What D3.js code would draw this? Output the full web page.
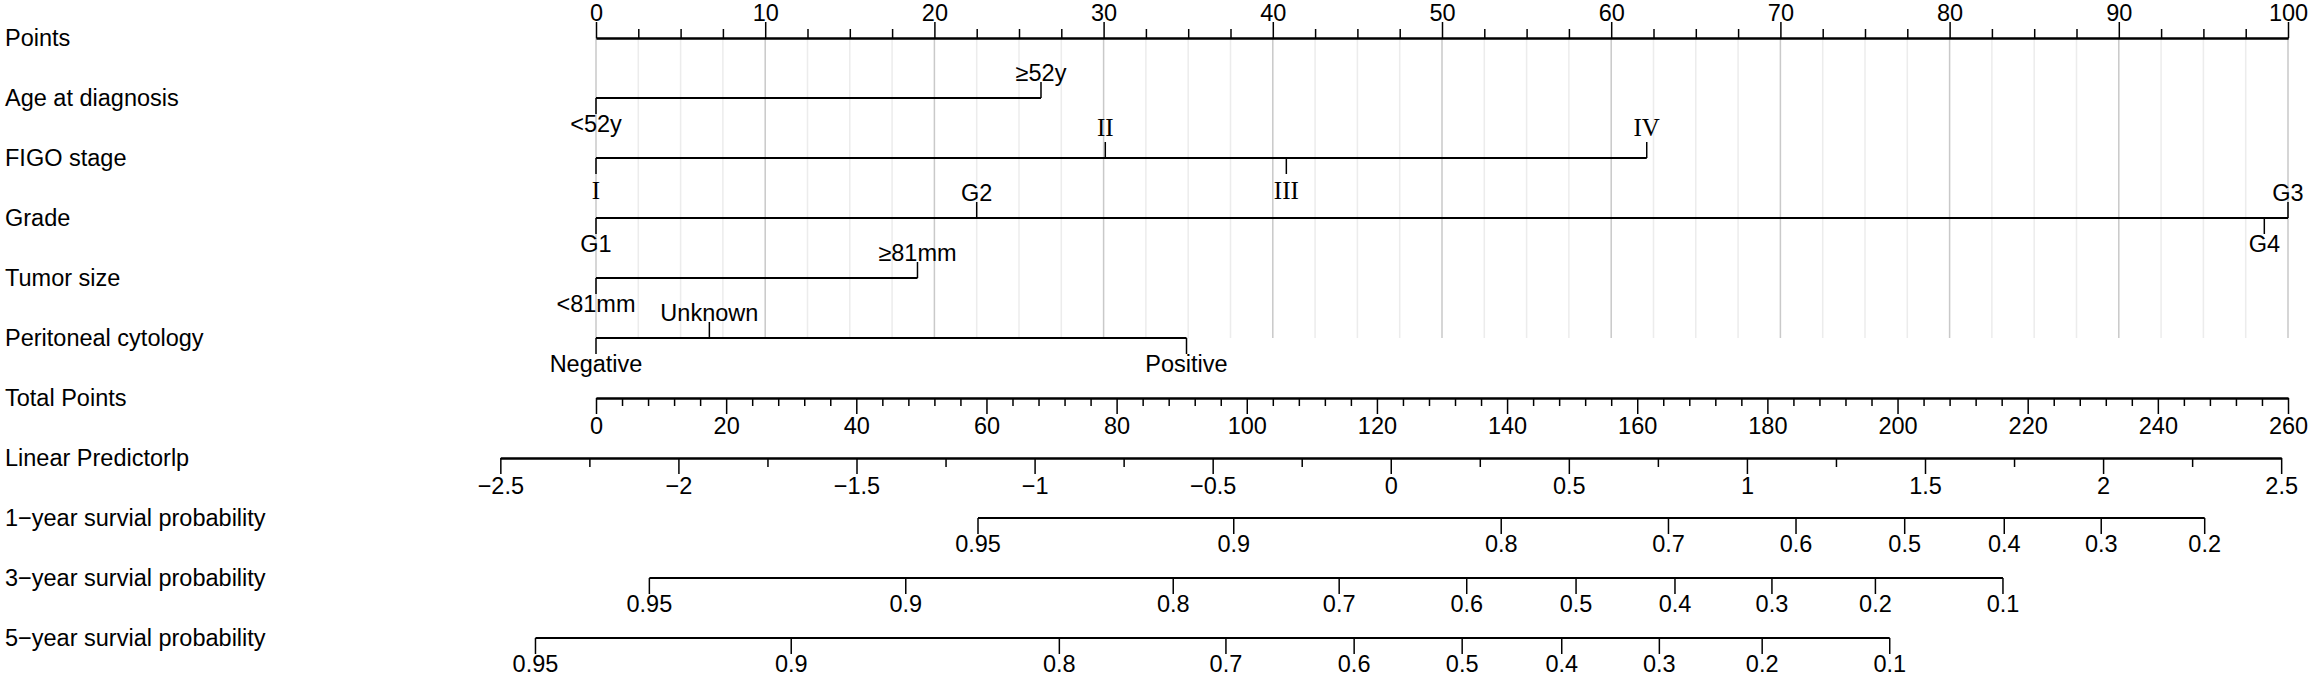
<!DOCTYPE html>
<html>
<head>
<meta charset="utf-8">
<script src="https://cdn.jsdelivr.net/npm/d3@7"></script>
<style>
  html, body { margin: 0; padding: 0; background: #fff; }
  svg { display: block; }
</style>
</head>
<body>
<svg id="chart" width="2309" height="676"></svg>
<script>
// ---------------- data ----------------
const rowLabels = ["Points", "Age at diagnosis", "FIGO stage", "Grade", "Tumor size",
  "Peritoneal cytology", "Total Points", "Linear Predictorlp",
  "1\u2212year survial probability", "3\u2212year survial probability", "5\u2212year survial probability"];

const pointTicks = [0, 10, 20, 30, 40, 50, 60, 70, 80, 90, 100];
const pointMinorStep = 2.5;

const ageLevels = ["<52y", "\u226552y"];
const agePoints = [0, 26.3];
const ageSides  = ["below", "above"];

const figoLevels = ["I", "II", "III", "IV"];
const figoPoints = [0, 30.1, 40.8, 62.1];
const figoSides  = ["below", "above", "below", "above"];

const gradeLevels = ["G1", "G2", "G3", "G4"];
const gradePoints = [0, 22.5, 100, 98.6];
const gradeSides  = ["below", "above", "above", "below"];

const tumorLevels = ["<81mm", "\u226581mm"];
const tumorPoints = [0, 19.0];
const tumorSides  = ["below", "above"];

const cytoLevels = ["Negative", "Unknown", "Positive"];
const cytoPoints = [0, 6.7, 34.9];
const cytoSides  = ["below", "above", "below"];

const totalTicks = [0, 20, 40, 60, 80, 100, 120, 140, 160, 180, 200, 220, 240, 260];
const totalMinorStep = 4;

const lpTicks = [-2.5, -2, -1.5, -1, -0.5, 0, 0.5, 1, 1.5, 2, 2.5];
const lpMinorStep = 0.25;
const lpEndsInTotalPoints = [-14.7, 258.95];   // where lp -2.5 and 2.5 fall on the total-points scale

const surv1Labels = ["0.95", "0.9", "0.8", "0.7", "0.6", "0.5", "0.4", "0.3", "0.2"];
const surv1Total  = [58.7, 98.0, 139.1, 164.8, 184.4, 201.1, 216.4, 231.3, 247.2];

const surv3Labels = ["0.95", "0.9", "0.8", "0.7", "0.6", "0.5", "0.4", "0.3", "0.2", "0.1"];
const surv3Total  = [8.2, 47.6, 88.7, 114.2, 133.8, 150.6, 165.8, 180.7, 196.6, 216.2];

const surv5Labels = ["0.95", "0.9", "0.8", "0.7", "0.6", "0.5", "0.4", "0.3", "0.2", "0.1"];
const surv5Total  = [-9.3, 30.0, 71.2, 96.8, 116.5, 133.1, 148.4, 163.4, 179.2, 198.8];

// ---------------- layout ----------------
const FS = 23.5;
const SANS = "'Liberation Sans', Arial, Helvetica, sans-serif";
const SERIF = "'Liberation Serif', 'Times New Roman', serif";
const rowY = d3.range(rowLabels.length).map(i => 38 + 60 * i);
const xP = d3.scaleLinear().domain([0, 100]).range([596, 2288]);   // points
const xT = d3.scaleLinear().domain([0, 260]).range([596, 2288]);   // total points
const xLP = d3.scaleLinear().domain([-2.5, 2.5]).range(lpEndsInTotalPoints.map(xT));

const svg = d3.select("#chart");
svg.append("rect").attr("width", 2309).attr("height", 676).attr("fill", "#fff");

// left labels
svg.append("g").selectAll("text").data(rowLabels).join("text")
  .attr("x", 5).attr("y", (d, i) => rowY[i] + 8)
  .style("font-family", SANS).style("font-size", FS + "px").attr("fill", "#000").text(d => d);

// grid
const gridVals = d3.range(0, 100 + 1e-9, pointMinorStep);
svg.append("g").selectAll("line").data(gridVals).join("line")
  .attr("x1", d => xP(d)).attr("x2", d => xP(d))
  .attr("y1", rowY[0]).attr("y2", rowY[5])
  .attr("stroke", d => (Math.abs(d % 10) < 1e-9) ? "#c9c9c9" : "#ececec")
  .attr("stroke-width", 1.5);

function styleAxis(g) {
  g.attr("font-family", null).attr("font-size", null);
  g.select(".domain").attr("stroke", "#000").attr("stroke-width", 2);
  g.selectAll(".tick line").attr("stroke", "#000").attr("stroke-width", 1.5);
  g.selectAll(".tick text").style("font-size", FS + "px").style("font-family", SANS).attr("fill", "#000");
}

// Points axis
const ptsMinor = gridVals.filter(v => Math.abs(v % 10) > 1e-9);
svg.append("g").attr("transform", `translate(0,${rowY[0]})`)
  .call(d3.axisTop(xP).tickValues(ptsMinor).tickSize(9).tickSizeOuter(0).tickFormat(""))
  .call(styleAxis);
svg.append("g").attr("transform", `translate(0,${rowY[0]})`)
  .call(d3.axisTop(xP).tickValues(pointTicks).tickSize(16).tickPadding(1.5).tickSizeOuter(0).tickFormat(d3.format("d")))
  .call(styleAxis);

// variable rows
function drawVar(row, levels, pts, sides, roman) {
  const y = rowY[row];
  const g = svg.append("g");
  const ext = d3.extent(pts);
  g.append("line").attr("x1", xP(ext[0])).attr("x2", xP(ext[1]))
    .attr("y1", y).attr("y2", y).attr("stroke", "#000").attr("stroke-width", 2);
  levels.forEach((lab, i) => {
    const x = xP(pts[i]);
    const up = sides[i] === "above";
    g.append("line").attr("x1", x).attr("x2", x)
      .attr("y1", y).attr("y2", up ? y - 16 : y + 16)
      .attr("stroke", "#000").attr("stroke-width", 1.5);
    const t = g.append("text").attr("x", x).attr("text-anchor", "middle").attr("fill", "#000").text(lab);
    if (roman) {
      t.style("font-family", SERIF).style("font-size", "25px")
       .attr("y", up ? y - 22.5 : y + 41);
    } else {
      t.style("font-family", SANS).style("font-size", FS + "px").attr("y", up ? y - 17 : y + 34);
    }
  });
}
drawVar(1, ageLevels, agePoints, ageSides, false);
drawVar(2, figoLevels, figoPoints, figoSides, true);
drawVar(3, gradeLevels, gradePoints, gradeSides, false);
drawVar(4, tumorLevels, tumorPoints, tumorSides, false);
drawVar(5, cytoLevels, cytoPoints, cytoSides, false);

// Total points axis
const totMinor = d3.range(0, 260 + 1e-9, totalMinorStep).filter(v => v % 20 !== 0);
svg.append("g").attr("transform", `translate(0,${rowY[6]})`)
  .call(d3.axisBottom(xT).tickValues(totMinor).tickSize(8).tickSizeOuter(0).tickFormat(""))
  .call(styleAxis);
svg.append("g").attr("transform", `translate(0,${rowY[6]})`)
  .call(d3.axisBottom(xT).tickValues(totalTicks).tickSize(16).tickPadding(3).tickSizeOuter(0).tickFormat(d3.format("d")))
  .call(styleAxis);

// Linear predictor axis
const lpMinor = d3.range(-2.5, 2.5 + 1e-9, lpMinorStep).filter(v => Math.abs((v * 2) - Math.round(v * 2)) > 1e-9);
svg.append("g").attr("transform", `translate(0,${rowY[7]})`)
  .call(d3.axisBottom(xLP).tickValues(lpMinor).tickSize(9).tickSizeOuter(0).tickFormat(""))
  .call(styleAxis);
svg.append("g").attr("transform", `translate(0,${rowY[7]})`)
  .call(d3.axisBottom(xLP).tickValues(lpTicks).tickSize(16).tickPadding(3).tickSizeOuter(0).tickFormat(d3.format("~g")))
  .call(styleAxis);

// survival axes
function drawSurv(row, labels, tot) {
  const y = rowY[row];
  const g = svg.append("g");
  const ext = d3.extent(tot);
  g.append("line").attr("x1", xT(ext[0])).attr("x2", xT(ext[1]))
    .attr("y1", y).attr("y2", y).attr("stroke", "#000").attr("stroke-width", 2);
  labels.forEach((lab, i) => {
    const x = xT(tot[i]);
    g.append("line").attr("x1", x).attr("x2", x).attr("y1", y).attr("y2", y + 16)
      .attr("stroke", "#000").attr("stroke-width", 1.5);
    g.append("text").attr("x", x).attr("y", y + 34).attr("text-anchor", "middle")
      .style("font-family", SANS).style("font-size", FS + "px").attr("fill", "#000").text(lab);
  });
}
drawSurv(8, surv1Labels, surv1Total);
drawSurv(9, surv3Labels, surv3Total);
drawSurv(10, surv5Labels, surv5Total);
</script>
</body>
</html>
